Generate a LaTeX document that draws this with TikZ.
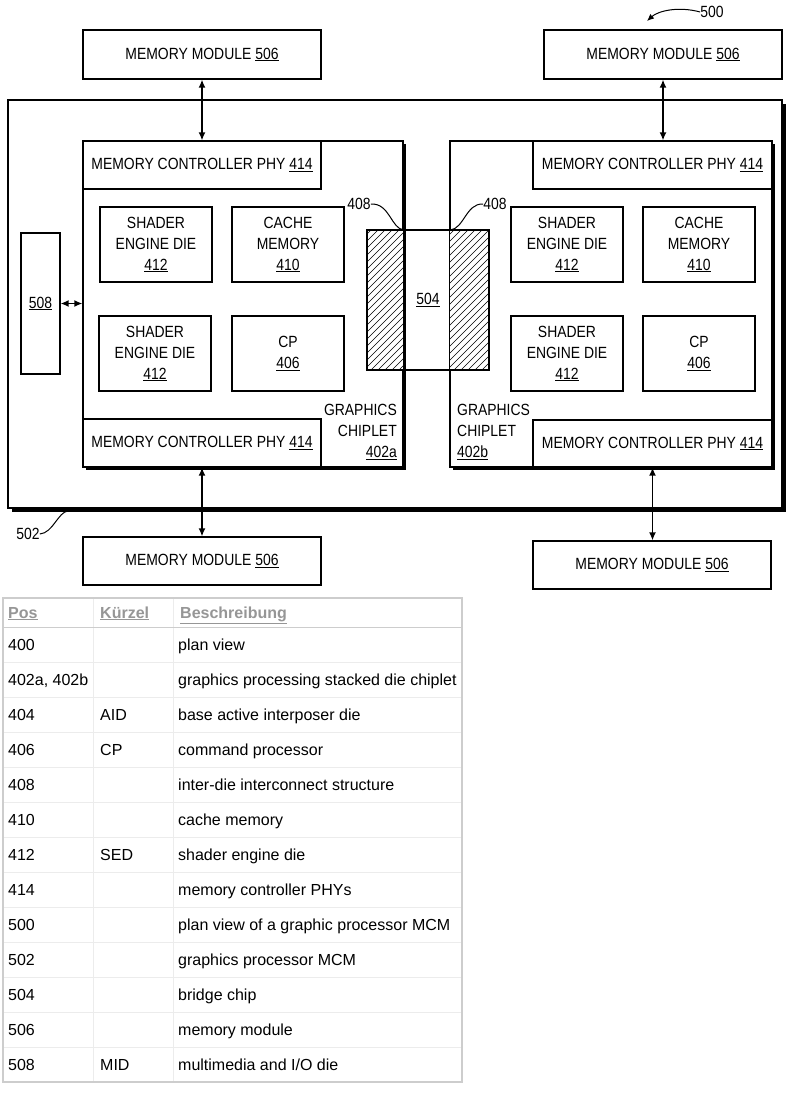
\documentclass[tikz,border=0pt]{standalone}
\usepackage{fontspec}
\setmainfont{Liberation Sans}
\newfontfamily\narrowfam[FakeStretch=0.86]{Liberation Sans}
\usetikzlibrary{arrows.meta,shadows}
\newcommand\diagfont{\narrowfam\fontsize{16.2}{21}\selectfont}
\newcommand\tabfont{\fontsize{16}{19}\selectfont}
\definecolor{hdrgray}{RGB}{150,150,150}
\definecolor{tborder}{RGB}{205,205,205}
\definecolor{tline}{RGB}{236,236,236}
\begin{document}
\begin{tikzpicture}[x=1pt,y=-1pt, >={Latex[length=8pt,width=7pt]},
 box/.style={draw, line width=1.3pt, fill=white, inner sep=0pt, align=center, font=\diagfont},
 sbox/.style={box, drop shadow={shadow xshift=3pt, shadow yshift=-3pt, opacity=1, fill=black}},
 link/.style={line width=1.4pt, <->},
 lead/.style={line width=1pt},
 lbl/.style={inner sep=0pt, font=\diagfont},
 cell/.style={anchor=base west, inner sep=0pt, font=\tabfont},
 hcell/.style={cell, text=hdrgray, font=\tabfont\bfseries},
 hatchline/.style={line width=0.6pt}]

\useasboundingbox (0,0) rectangle (796,1103);
\fill[white] (0,0) rectangle (796,1103);

% MCM 502
\node[box, minimum width=774, minimum height=408,
  drop shadow={shadow xshift=4pt, shadow yshift=-4pt, opacity=1, fill=black}] (mcm) at (395,304) {};

% chiplets
\node[sbox, minimum width=320, minimum height=326] (chipa) at (243,304) {};
\node[sbox, minimum width=322, minimum height=326] (chipb) at (611,304) {};

% PHYs
\node[box, minimum width=238, minimum height=48] (phya1) at (202,165) {MEMORY CONTROLLER PHY \underline{414}};
\node[box, minimum width=238, minimum height=48] (phya2) at (202,443) {MEMORY CONTROLLER PHY \underline{414}};
\node[box, minimum width=239, minimum height=48] (phyb1) at (652.5,165) {MEMORY CONTROLLER PHY \underline{414}};
\node[box, minimum width=239, minimum height=47] (phyb2) at (652.5,443.5) {MEMORY CONTROLLER PHY \underline{414}};

% inner dies
\node[box, minimum width=112, minimum height=75] (sea1) at (156,244.5) {SHADER\\ENGINE DIE\\\underline{412}};
\node[box, minimum width=112, minimum height=75] (cma) at (288,244.5) {CACHE\\MEMORY\\\underline{410}};
\node[box, minimum width=112, minimum height=75] (sea2) at (155,353.5) {SHADER\\ENGINE DIE\\\underline{412}};
\node[box, minimum width=112, minimum height=75] (cpa) at (288,353.5) {CP\\\underline{406}};
\node[box, minimum width=112, minimum height=75] (seb1) at (567,244.5) {SHADER\\ENGINE DIE\\\underline{412}};
\node[box, minimum width=112, minimum height=75] (cmb) at (699,244.5) {CACHE\\MEMORY\\\underline{410}};
\node[box, minimum width=112, minimum height=75] (seb2) at (567,353.5) {SHADER\\ENGINE DIE\\\underline{412}};
\node[box, minimum width=112, minimum height=75] (cpb) at (699,353.5) {CP\\\underline{406}};

% 508
\node[box, minimum width=39, minimum height=141] (mid) at (40.5,303.5) {\underline{508}};

% memory modules
\node[box, minimum width=238, minimum height=49] (mm1) at (202,54.5) {MEMORY MODULE \underline{506}};
\node[box, minimum width=238, minimum height=49] (mm2) at (663,54.5) {MEMORY MODULE \underline{506}};
\node[box, minimum width=238, minimum height=48] (mm3) at (202,561) {MEMORY MODULE \underline{506}};
\node[box, minimum width=238, minimum height=48] (mm4) at (652,565) {MEMORY MODULE \underline{506}};

% connectors
\draw[link] (mm1.south) -- (phya1.north);
\draw[link] (mm2.south) -- (mm2.south |- phyb1.north);
\draw[link] (phya2.south) -- (mm3.north);
\draw[link] (phyb2.south) -- (phyb2.south |- mm4.north);
\draw[link] (mid.east) -- (mid.east -| chipa.west);

% bridge 504
\node[draw, line width=1.3pt, fill=white, minimum width=122, minimum height=140, inner sep=0pt, font=\diagfont] (bridge) at (428,300) {\underline{504}};
\begin{scope}
  \clip (367,230) rectangle (404,370);
  \foreach \k in {-150,-143,...,50} \draw[hatchline] (367+\k,370) -- (507+\k,230);
\end{scope}
\begin{scope}
  \clip (450,230) rectangle (489,370);
  \foreach \k in {-150,-143,...,50} \draw[hatchline] (450+\k,370) -- (590+\k,230);
\end{scope}
\draw[line width=1.3pt] (bridge.north west) rectangle (bridge.south east);
\draw[line width=1.3pt] (chipb.west |- bridge.north) -- (chipb.west |- bridge.south);
\draw[line width=3.6pt] ([xshift=0.8pt]chipa.east |- bridge.north) -- ([xshift=0.8pt]chipa.east |- bridge.south);

% reference labels
\node[lbl] (t408a) at (359,204) {408};
\coordinate (e408a) at (404,230);
\draw[lead] (t408a.east) .. controls (390,203) and (391,229) .. (e408a);
\node[lbl] (t408b) at (495,204) {408};
\coordinate (e408b) at (450,230);
\draw[lead] (t408b.west) .. controls (466,203) and (464,229) .. (e408b);

\node[lbl] (t500) at (712,12) {500};
\coordinate (e500) at (647,21);
\draw[lead,-{Latex[length=7pt,width=6pt]}] (t500.west) .. controls (678,6) and (658,11) .. (e500);

\node[lbl] (t502) at (28,534) {502};
\coordinate (e502) at (68,511);
\draw[lead] (t502.east) .. controls (53,533) and (58,512) .. (e502);

\node[lbl, align=right, anchor=east] (lab402a) at (397,432) {GRAPHICS\\CHIPLET\\\underline{402a}};
\node[lbl, align=left, anchor=west] (lab402b) at (457,432) {GRAPHICS\\CHIPLET\\\underline{402b}};

% table
\foreach \yy in {662,697,...,1047} \draw[tline, line width=1pt] (3,\yy) -- (462,\yy);
\draw[tline, line width=1pt] (93,598) -- (93,1082);
\draw[tline, line width=1pt] (173,598) -- (173,1082);
\draw[tborder, line width=1pt] (3,627) -- (462,627);
\draw[tborder, line width=1.3pt] (3,598) rectangle (462,1082);

\node[hcell] (hpos) at (8,618) {\underline{Pos}};
\node[hcell] (hkur) at (100,618) {\underline{Kürzel}};
\node[hcell] (hbes) at (180,618) {\underline{Beschreibung}};

\node[cell] (p1) at (8,650) {400};
\node[cell] (d1) at (178,650) {plan view};
\node[cell] (p2) at (8,685) {402a, 402b};
\node[cell] (d2) at (178,685) {graphics processing stacked die chiplet};
\node[cell] (p3) at (8,720) {404};
\node[cell] (k3) at (100,720) {AID};
\node[cell] (d3) at (178,720) {base active interposer die};
\node[cell] (p4) at (8,755) {406};
\node[cell] (k4) at (100,755) {CP};
\node[cell] (d4) at (178,755) {command processor};
\node[cell] (p5) at (8,790) {408};
\node[cell] (d5) at (178,790) {inter-die interconnect structure};
\node[cell] (p6) at (8,825) {410};
\node[cell] (d6) at (178,825) {cache memory};
\node[cell] (p7) at (8,860) {412};
\node[cell] (k7) at (100,860) {SED};
\node[cell] (d7) at (178,860) {shader engine die};
\node[cell] (p8) at (8,895) {414};
\node[cell] (d8) at (178,895) {memory controller PHYs};
\node[cell] (p9) at (8,930) {500};
\node[cell] (d9) at (178,930) {plan view of a graphic processor MCM};
\node[cell] (p10) at (8,965) {502};
\node[cell] (d10) at (178,965) {graphics processor MCM};
\node[cell] (p11) at (8,1000) {504};
\node[cell] (d11) at (178,1000) {bridge chip};
\node[cell] (p12) at (8,1035) {506};
\node[cell] (d12) at (178,1035) {memory module};
\node[cell] (p13) at (8,1070) {508};
\node[cell] (k13) at (100,1070) {MID};
\node[cell] (d13) at (178,1070) {multimedia and I/O die};
\end{tikzpicture}
\end{document}
